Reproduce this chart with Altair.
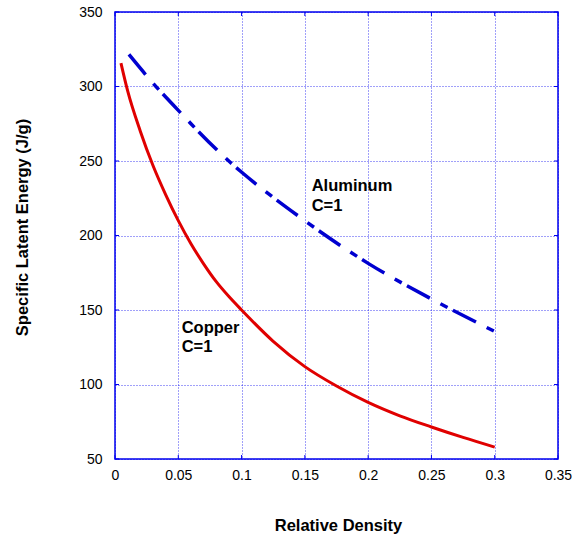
import altair as alt
import pandas as pd

# Copper, C=1 (red solid)
copper_x = [0.0047, 0.01, 0.02, 0.03, 0.04, 0.05, 0.06, 0.07, 0.08, 0.09, 0.1,
            0.125, 0.15, 0.175, 0.2, 0.225, 0.25, 0.275, 0.3]
copper_y = [315.7, 297, 270, 247, 227.5, 210, 194.5, 181, 169, 159, 150,
            129, 112, 99, 88, 79, 71.5, 64.5, 58]

# Aluminum, C=1 (blue dash-dot)
alu_x = [0.011, 0.031, 0.05, 0.06, 0.0908, 0.1013, 0.1456, 0.2, 0.25, 0.3]
alu_y = [321.5, 301.3, 284, 275, 249.3, 241.6, 212.6, 181.3, 157.4, 135.6]

# Annotation lines
label_text = ["Aluminum", "C=1", "Copper", "C=1"]
label_x = [0.1554, 0.1554, 0.0527, 0.0527]
label_y = [232.9, 219.8, 138.1, 125.4]

x_ticks = [0, 0.05, 0.1, 0.15, 0.2, 0.25, 0.3, 0.35]
y_ticks = [50, 100, 150, 200, 250, 300, 350]

W, H = 443, 447
BLUE = "#0000ee"
FONT = "Liberation Sans"

copper = pd.DataFrame({"x": copper_x, "y": copper_y})
alu = pd.DataFrame({"x": alu_x, "y": alu_y})
labels = pd.DataFrame({"x": label_x, "y": label_y, "t": label_text})
xt = pd.DataFrame({"v": x_ticks})
yt = pd.DataFrame({"v": y_ticks})

xscale = alt.Scale(domain=[0, 0.35], nice=False, zero=False)
yscale = alt.Scale(domain=[50, 350], nice=False, zero=False)

xaxis = alt.Axis(
    values=x_ticks, format="~g", title="Relative Density",
    grid=True, gridColor=BLUE, gridDash=[1, 2], gridOpacity=0.75, gridWidth=1,
    domain=False, ticks=False, labelPadding=9, labelFontSize=14, labelColor="#000000",
    labelFont=FONT, titleFont=FONT, titleFontSize=16.5, titleFontWeight="bold",
    titleColor="#000000", titleX=223, titleY=66, titleBaseline="middle",
    titleAlign="center", labelFlush=False,
)
yaxis = alt.Axis(
    values=y_ticks, title="Specific Latent Energy (J/g)",
    grid=True, gridColor=BLUE, gridDash=[1, 2], gridOpacity=0.75, gridWidth=1,
    domain=False, ticks=False, labelPadding=13, labelFontSize=14, labelColor="#000000",
    labelFont=FONT, titleFont=FONT, titleFontSize=16.5, titleFontWeight="bold",
    titleColor="#000000", titleX=-93, titleY=215, titleAngle=-90,
    titleBaseline="middle", titleAlign="center", labelFlush=False,
)


def X(field):
    return alt.X(field, type="quantitative", scale=xscale, axis=xaxis)


def Y(field):
    return alt.Y(field, type="quantitative", scale=yscale, axis=yaxis)


copper_line = alt.Chart(copper).mark_line(
    color="#e00000", strokeWidth=3, interpolate="monotone"
).encode(x=X("x"), y=Y("y"), order=alt.Order("x:Q"))
alu_line = alt.Chart(alu).mark_line(
    color="#0000d0", strokeWidth=3.5, strokeDash=[26, 12, 8, 6], interpolate="monotone"
).encode(x=X("x"), y=Y("y"), order=alt.Order("x:Q"))

text = alt.Chart(labels).mark_text(
    align="left", baseline="middle", font=FONT, fontSize=16.5, fontWeight="bold",
    color="#000000"
).encode(x=X("x"), y=Y("y"), text="t:N")

# inward tick marks on all four sides
xt_bottom = alt.Chart(xt).mark_rule(color=BLUE, strokeWidth=1).encode(
    x=X("v"), y=alt.value(H), y2=alt.value(H - 4)
)
xt_top = alt.Chart(xt).mark_rule(color=BLUE, strokeWidth=1).encode(
    x=X("v"), y=alt.value(0), y2=alt.value(4)
)
yt_left = alt.Chart(yt).mark_rule(color=BLUE, strokeWidth=1).encode(
    y=Y("v"), x=alt.value(0), x2=alt.value(4)
)
yt_right = alt.Chart(yt).mark_rule(color=BLUE, strokeWidth=1).encode(
    y=Y("v"), x=alt.value(W), x2=alt.value(W - 4)
)

chart = alt.layer(
    xt_bottom, xt_top, yt_left, yt_right, copper_line, alu_line, text
).properties(
    width=W, height=H,
    autosize=alt.AutoSizeParams(type="none"),
    padding={"left": 115, "top": 12, "right": 22, "bottom": 78},
    background="#ffffff",
).configure_view(
    stroke=BLUE, strokeWidth=1.5
)

chart.save("out.html", embed_options={"renderer": "svg", "actions": False})
